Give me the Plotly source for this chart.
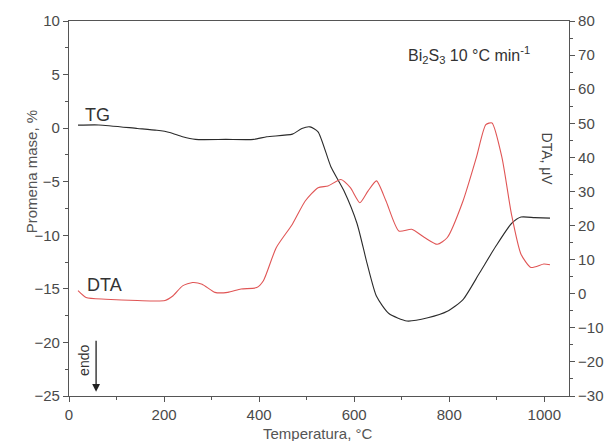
import plotly.graph_objects as go

# TG curve (left axis, %)
tg_T = [19, 63, 144, 185, 212, 239, 266, 330, 389, 416, 470, 490, 507, 524, 551, 578, 606, 627, 647, 673, 711, 755, 796, 829, 864, 897, 931, 951, 980, 1012]
tg_v = [0.28, 0.3, -0.03, -0.2, -0.4, -0.8, -1.05, -1.05, -1.05, -0.8, -0.56, -0.03, 0.12, -0.34, -3.6, -5.8, -8.9, -12.6, -15.7, -17.3, -18.0, -17.7, -17.1, -16.0, -13.5, -11.1, -8.9, -8.3, -8.35, -8.4]

# DTA curve (right axis, µV)
dta_T = [19, 36, 77, 144, 202, 219, 239, 260, 280, 307, 334, 362, 395, 409, 436, 470, 497, 524, 545, 572, 592, 612, 629, 647, 667, 694, 721, 748, 775, 796, 829, 857, 877, 890, 911, 931, 951, 972, 999, 1012]
dta_v = [0.9, -1.1, -1.6, -2.0, -2.0, -0.6, 2.3, 3.3, 2.8, 0.4, 0.4, 1.4, 1.8, 3.8, 13.5, 20.4, 27.2, 31.1, 31.6, 33.5, 31.1, 26.7, 30.1, 33.1, 27.2, 18.4, 18.9, 16.5, 14.5, 16.5, 27.2, 39.9, 49.6, 50.1, 39.9, 23.3, 11.6, 7.7, 8.7, 8.5]

x_ticks = [0, 200, 400, 600, 800, 1000]
left_ticks = [10, 5, 0, -5, -10, -15, -20, -25]
right_ticks = [80, 70, 60, 50, 40, 30, 20, 10, 0, -10, -20, -30]

axis_col = "#555555"
font_col = "#4a4a4a"
FONT = "Liberation Sans, Arial, sans-serif"

fig = go.Figure()
fig.add_trace(go.Scatter(x=tg_T, y=tg_v, mode="lines", line=dict(color="#2b2b2b", width=1.1, shape="spline", smoothing=0.6), yaxis="y", showlegend=False))
fig.add_trace(go.Scatter(x=dta_T, y=dta_v, mode="lines", line=dict(color="#e05555", width=1.1, shape="spline", smoothing=0.6), yaxis="y2", showlegend=False))

common_axis = dict(showgrid=False, zeroline=False, showline=True, linecolor=axis_col, linewidth=1.2,
                   ticks="outside", ticklen=5, tickwidth=1, tickcolor=axis_col,
                   tickfont=dict(size=15, color=font_col, family=FONT))

fig.update_layout(
    width=616, height=441,
    margin=dict(l=69, r=30, t=20, b=45),
    paper_bgcolor="white", plot_bgcolor="white",
    font=dict(family=FONT, color=font_col),
    xaxis=dict(range=[0, 1052], tickvals=x_ticks, mirror=True,
               minor=dict(ticks="outside", ticklen=3, dtick=100, tickcolor=axis_col), **common_axis),
    yaxis=dict(range=[-25, 10], tickvals=left_ticks,
               minor=dict(ticks="outside", ticklen=3, dtick=2.5, tickcolor=axis_col), **common_axis),
    yaxis2=dict(range=[-30, 80], tickvals=right_ticks, overlaying="y", side="right",
                minor=dict(ticks="outside", ticklen=3, dtick=5, tickcolor=axis_col), **common_axis),
)

ann = [
    dict(x=59, y=1.2, xref="x", yref="y", text="TG", showarrow=False, font=dict(size=18, color="#333")),
    dict(x=75, y=-14.6, xref="x", yref="y", text="DTA", showarrow=False, font=dict(size=18, color="#333")),
    dict(x=842, y=6.8, xref="x", yref="y", text="Bi<sub>2</sub>S<sub>3</sub> 10 °C min<sup>-1</sup>", showarrow=False, font=dict(size=16, color="#333")),
    dict(x=1005, y=-2.9, xref="x", yref="y", text="DTA, μV", textangle=90, showarrow=False, font=dict(size=14, color="#444")),
    dict(x=30, y=-21.7, xref="x", yref="y", text="endo", textangle=-90, showarrow=False, font=dict(size=14, color="#333")),
    dict(x=57, y=-24.6, ax=57, ay=-19.7, xref="x", yref="y", axref="x", ayref="y", text="", showarrow=True,
         arrowhead=2, arrowsize=1.2, arrowwidth=1.3, arrowcolor="#222"),
    dict(x=-0.075, y=0.598, xref="paper", yref="paper", xanchor="center", yanchor="middle",
         text="Promena mase, %", textangle=-90, showarrow=False, font=dict(size=15, color="#555")),
    dict(x=0.498, y=-0.101, xref="paper", yref="paper", xanchor="center", yanchor="middle",
         text="Temperatura, °C", showarrow=False, font=dict(size=15, color="#555")),
]
fig.update_layout(annotations=ann)

fig.write_html("out.html")
